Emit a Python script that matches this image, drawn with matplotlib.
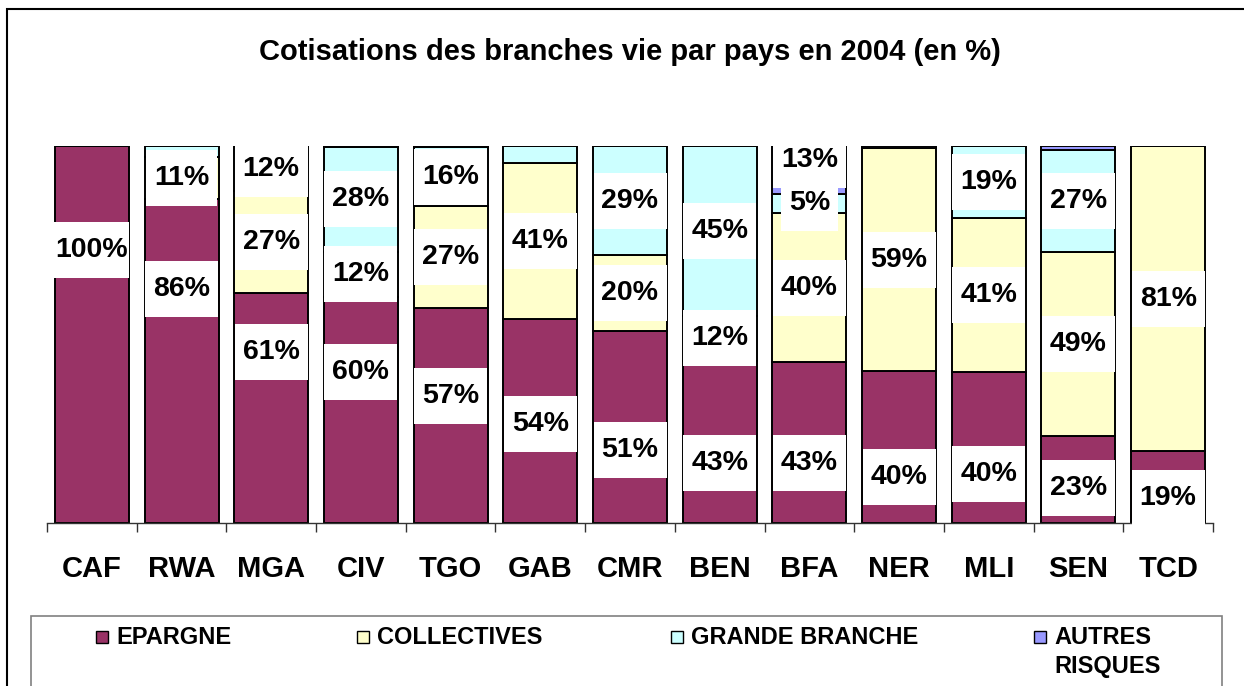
import numpy as np
import matplotlib
matplotlib.use("Agg")
import matplotlib.pyplot as plt
from matplotlib.patches import Rectangle

plt.rcParams['font.family'] = ['Liberation Sans', 'DejaVu Sans']
plt.rcParams['font.weight'] = 'bold'

# data (% of life premiums, 2004)
pays = ['CAF', 'RWA', 'MGA', 'CIV', 'TGO', 'GAB', 'CMR', 'BEN', 'BFA', 'NER', 'MLI', 'SEN', 'TCD']
epargne = [100, 86, 61, 60, 57, 54, 51, 43, 42.6, 40.2, 40, 23, 19]
collectives = [0, 11, 27, 12, 27, 41.4, 20, 12, 39.7, 59.3, 41, 49, 81]
grande_branche = [0, 3, 12, 27.7, 15.7, 4.6, 29, 45, 5.1, 0, 19, 27, 0]
autres_risques = [0, 0, 0, 0.3, 0.3, 0, 0, 0, 12.6, 0.5, 0, 1, 0]

series = [epargne, collectives, grande_branche, autres_risques]
noms = ['EPARGNE', 'COLLECTIVES', 'GRANDE BRANCHE', 'AUTRES\nRISQUES']
couleurs = ['#993366', '#FFFFCC', '#CCFFFF', '#9999FF']

# hand-placed label heights for the EPARGNE labels (as in the original chart)
lbl_y_epargne = [72.4, 62.1, 45.4, 40.1, 33.7, 26.3, 19.4, 15.9, 15.9, 12.2, 13.0, 9.3, 6.6]

W, H = 1244, 686
fig = plt.figure(figsize=(W / 100, H / 100), dpi=100)
fx = lambda px: px / W
fy = lambda py: 1 - py / H

ax = fig.add_axes([fx(47), fy(523), fx(1213) - fx(47), fy(146) - fy(523)])

x = np.arange(len(pays))
bottom = np.zeros(len(pays))
for vals, nom, c in zip(series, noms, couleurs):
    v = np.array(vals, dtype=float)
    ax.bar(x, v, 0.825, bottom=bottom, color=c, edgecolor='black', linewidth=1.4, zorder=2)
    bottom += v

ax.set_xlim(-0.5, len(pays) - 0.5)
ax.set_ylim(0, 100)
for s in ['left', 'right', 'top']:
    ax.spines[s].set_visible(False)
ax.spines['bottom'].set_color('#333333')
ax.spines['bottom'].set_linewidth(1)
ax.set_yticks([])
ax.set_xticks(x)
ax.set_xticklabels(pays, fontsize=21, fontweight='bold')
ax.tick_params(axis='x', which='major', length=0, pad=23)
ax.set_xticks(np.arange(-0.5, len(pays), 1), minor=True)
ax.tick_params(axis='x', which='minor', length=6.5, width=1, color='#333333')

# data labels with white boxes
renderer = fig.canvas.get_renderer()
p0 = ax.transData.transform((0, 0))
p1 = ax.transData.transform((1, 1))
pxx, pxy = p1[0] - p0[0], p1[1] - p0[1]

bottom = np.zeros(len(pays))
for k, vals in enumerate(series):
    v = np.array(vals, dtype=float)
    for i in range(len(pays)):
        if v[i] >= 5:
            yc = lbl_y_epargne[i] if k == 0 else bottom[i] + v[i] / 2
            if k == 3:
                yc += 2.6
            t = ax.text(x[i], yc, '%.0f%%' % v[i], ha='center', va='center',
                        fontsize=20.5, fontweight='bold', zorder=6, clip_on=False)
            bb = t.get_window_extent(renderer)
            w = min(bb.width + 16, 75) / pxx
            h = 56 / pxy
            ax.add_patch(Rectangle((x[i] - w / 2, yc - h / 2), w, h, facecolor='white',
                                   edgecolor='none', zorder=5, clip_on=False))
    bottom += v

fig.text(fx(630), fy(52), 'Cotisations des branches vie par pays en 2004 (en %)',
         ha='center', va='center', fontsize=21, fontweight='bold')

# chart area border and legend
fig.patches.append(Rectangle((fx(7), -0.05), 1.1, fy(9) + 0.05, transform=fig.transFigure,
                             facecolor='none', edgecolor='black', linewidth=1.5))
fig.patches.append(Rectangle((fx(31), -0.05), fx(1222) - fx(31), fy(616) + 0.05,
                             transform=fig.transFigure, facecolor='none',
                             edgecolor='#808080', linewidth=1.2))
mark_x = [102, 363, 677, 1040]
for mx, nom, c in zip(mark_x, noms, couleurs):
    fig.patches.append(Rectangle((fx(mx - 6), fy(643)), fx(12), fy(631) - fy(643),
                                 transform=fig.transFigure, facecolor=c,
                                 edgecolor='black', linewidth=1))
    for j, ligne in enumerate(nom.split('\n')):
        fig.text(fx(mx + 14), fy(644 + 29 * j), ligne, ha='left', va='baseline',
                 fontsize=17, fontweight='bold')

fig.savefig('out.png', dpi=100)
